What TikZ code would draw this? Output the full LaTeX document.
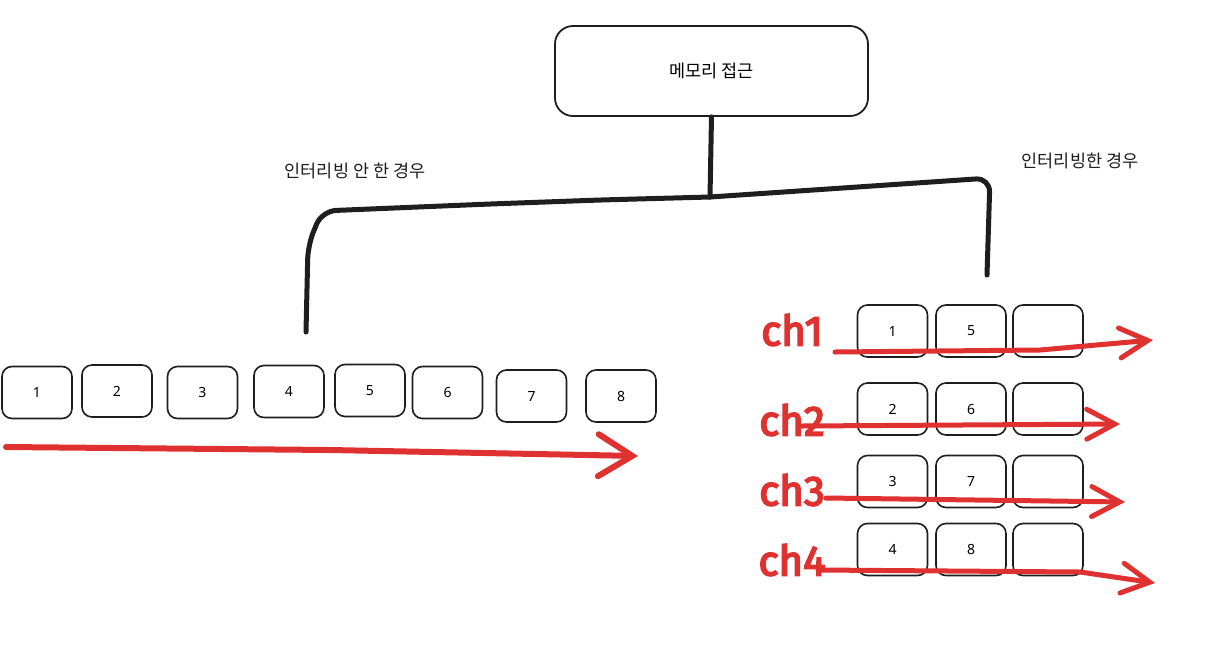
\documentclass[tikz,border=0pt]{standalone}
\usepackage{fontspec}
\setmainfont{Noto Sans}
\newfontfamily\kr{Noto Sans CJK KR}
\newfontfamily\hand[FakeBold=4]{Fira Sans}
\usetikzlibrary{arrows.meta}
\definecolor{ink}{HTML}{1E1E1E}
\definecolor{pen}{HTML}{E03131}
\begin{document}
\begin{tikzpicture}[x=1pt,y=-1pt,
  cell/.style={draw=ink, line width=1.6pt, rounded corners=10pt, minimum width=70pt, minimum height=52pt, inner sep=0pt, font=\fontsize{14}{16}\selectfont},
  topbox/.style={draw=ink, line width=1.8pt, rounded corners=18pt, minimum width=313pt, minimum height=90pt, font=\kr\fontsize{17.5}{19}\selectfont},
  wire/.style={draw=ink, line width=5pt, line cap=round, line join=round, rounded corners=14pt},
  label/.style={font=\kr\fontsize{17.5}{19}\selectfont, text=ink},
  redline/.style={draw=pen, line width=5pt, line cap=round, line join=round, -{Straight Barb[length=28pt,width=30pt,line cap=round]}},
  bigred/.style={draw=pen, line width=6pt, line cap=round, line join=round, -{Straight Barb[length=34pt,width=42pt,line cap=round]}},
  chlabel/.style={text=pen, font=\hand\fontsize{42}{42}\selectfont, inner sep=0pt}
]
\useasboundingbox[fill=white] (0,0) rectangle (1232,657);

% top box
\node[topbox] (top) at (711.5,71) {메모리 접근};

% labels
\node[label] (lbl) at (355,171) {인터리빙 안 한 경우};
\node[label] (lbr) at (1080,161) {인터리빙한 경우};

% wires
\coordinate (j) at (710,197);
\coordinate (lend) at (306,332);
\coordinate (rend) at (987,275);
\draw[wire] (top.south) -- (j);
\draw[wire] (j) -- (600,200) -- (490,204) -- (322,211) -- (308,245) -- (lend);
\draw[wire] (j) -- (990,178) -- (rend);

% left row
\node[cell] (l1) at (37,392.5) {1};
\node[cell] (l2) at (117,391) {2};
\node[cell] (l3) at (202.5,392.5) {3};
\node[cell] (l4) at (289,391.5) {4};
\node[cell] (l5) at (370,390.5) {5};
\node[cell] (l6) at (447.5,392.5) {6};
\node[cell] (l7) at (531.5,396) {7};
\node[cell] (l8) at (621,396) {8};

\coordinate (bs) at (6,447);
\coordinate (be) at (638,456);
\draw[bigred] (bs) -- (330,450) -- (be);

% right group
\node[cell] (r11) at (892.5,331) {1};
\node[cell] (r12) at (971,331) {5};
\node[cell] (r13) at (1048,331) {};
\node[cell] (r21) at (892.5,409) {2};
\node[cell] (r22) at (971,409) {6};
\node[cell] (r23) at (1048,409) {};
\node[cell] (r31) at (892.5,481.5) {3};
\node[cell] (r32) at (971,481.5) {7};
\node[cell] (r33) at (1048,481.5) {};
\node[cell] (r41) at (892.5,549.5) {4};
\node[cell] (r42) at (971,549.5) {8};
\node[cell] (r43) at (1048,549.5) {};

% channel labels
\node[chlabel] (c1) at (792,330) {ch1};
\node[chlabel] (c2) at (792,420) {ch2};
\node[chlabel] (c3) at (792,490) {ch3};
\node[chlabel] (c4) at (792,560) {ch4};

% channel arrows
\coordinate (a1s) at (835,352);
\coordinate (a1e) at (1153,340);
\coordinate (a2s) at (802,426);
\coordinate (a2e) at (1120,424);
\coordinate (a3s) at (826,498);
\coordinate (a3e) at (1125,502);
\coordinate (a4s) at (818,570);
\coordinate (a4e) at (1155,583);
\draw[redline] (a1s) -- (1040,350) -- (a1e);
\draw[redline] (a2s) -- (a2e);
\draw[redline] (a3s) -- (a3e);
\draw[redline] (a4s) -- (1080,572) -- (a4e);
\end{tikzpicture}
\end{document}
